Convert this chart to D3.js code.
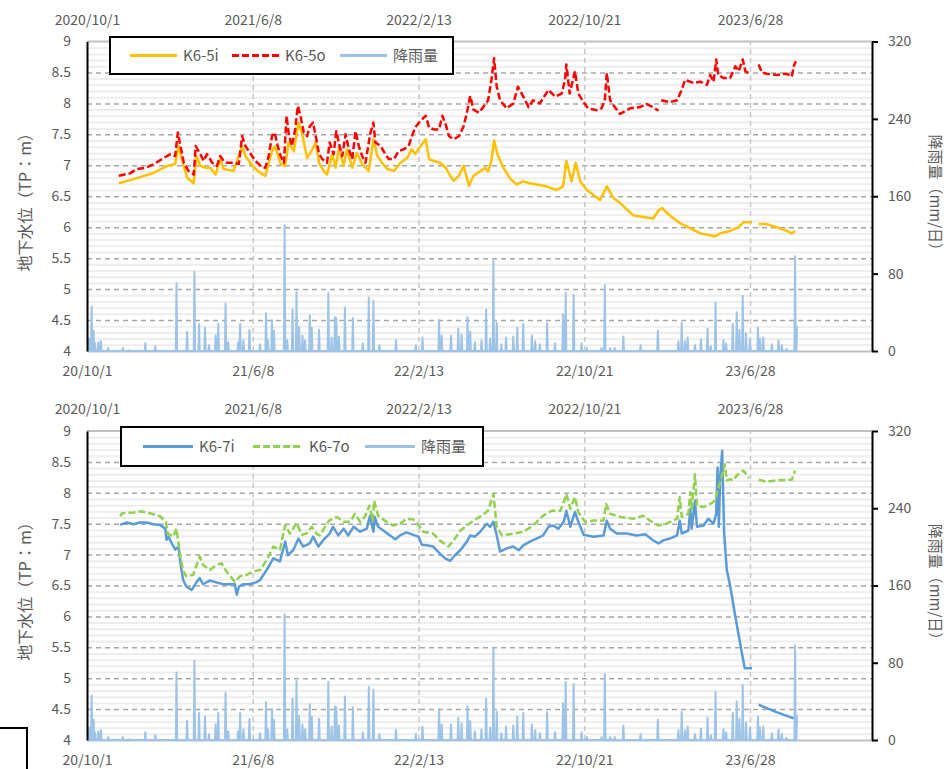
<!DOCTYPE html>
<html>
<head>
<meta charset="utf-8">
<script src="https://cdn.jsdelivr.net/npm/d3@7"></script>
<style>
  body { margin: 0; background: #fff; }
  svg text { font-family: "Noto Sans CJK JP", "Noto Sans", sans-serif; fill: #595959; }
</style>
</head>
<body>
<svg id="chart" width="947" height="769"></svg>
<script>
// days counted from 2020/10/1
var tickDates = ["2020/10/1", "2021/6/8", "2022/2/13", "2022/10/21", "2023/6/28"];
var topTickLabels = ["2020/10/1", "2021/6/8", "2022/2/13", "2022/10/21", "2023/6/28"];
var bottomTickLabels = ["20/10/1", "21/6/8", "22/2/13", "22/10/21", "23/6/28"];
var levelTicks = [4, 4.5, 5, 5.5, 6, 6.5, 7, 7.5, 8, 8.5, 9];
var rainTicks = [0, 80, 160, 240, 320];

var k65i = [[48,6.71],[65,6.76],[86,6.83],[101,6.88],[121,6.99],[133,7.02],[138,7.31],[143,7.10],[151,6.80],[161,6.71],
  [165,7.15],[171,6.99],[179,6.96],[186,6.96],[194,6.85],[201,7.10],[206,6.94],[221,6.91],[234,7.31],[239,7.15],
  [246,7.04],[257,6.91],[269,6.83],[279,7.23],[284,7.31],[292,7.02],[299,6.99],[304,7.37],[312,7.23],[319,7.69],
  [324,7.53],[332,7.12],[340,7.26],[345,7.37],[350,7.04],[357,6.91],[362,6.85],[370,7.18],[375,6.96],[380,7.28],
  [387,6.99],[392,7.26],[400,6.96],[407,7.20],[415,7.02],[425,6.91],[432,7.42],[438,7.15],[445,7.04],[453,6.94],
  [463,6.91],[473,7.04],[483,7.12],[490,7.26],[495,7.18],[503,7.31],[511,7.42],[516,7.10],[523,7.07],[533,7.04],
  [541,6.96],[548,6.83],[553,6.75],[561,6.83],[568,6.99],[576,6.67],[583,6.83],[594,6.91],[601,6.96],[605,6.90],
  [610,7.07],[614,7.40],[619,7.18],[628,6.96],[638,6.79],[648,6.69],[658,6.74],[668,6.71],[678,6.69],[693,6.66],
  [708,6.60],[718,6.66],[723,7.07],[731,6.74],[737,7.04],[744,6.74],[754,6.60],[764,6.52],[774,6.44],[784,6.66],
  [794,6.47],[804,6.39],[824,6.19],[854,6.14],[862,6.27],[867,6.31],[879,6.19],[895,6.06],[910,5.98],[925,5.90],
  [940,5.87],[947,5.85],[955,5.90],[970,5.94],[983,6.00],[990,6.08],[1003,6.08],[1008,null],[1013,6.05],[1025,6.05],
  [1040,6.00],[1055,5.94],[1063,5.90],[1068,5.94]];

var k65o = [[48,6.83],[65,6.87],[75,6.94],[88,6.96],[101,7.02],[116,7.12],[126,7.18],[133,7.15],[137,7.53],[141,7.31],
  [146,7.04],[153,6.91],[161,6.85],[164,7.31],[171,7.18],[176,7.07],[181,7.18],[189,7.04],[196,6.99],[201,7.15],
  [206,7.07],[211,7.04],[221,7.04],[229,7.02],[234,7.47],[239,7.31],[246,7.20],[254,7.07],[262,6.99],[269,6.96],
  [274,7.15],[279,7.47],[283,7.53],[287,7.34],[292,7.15],[297,7.04],[301,7.80],[304,7.53],[309,7.31],[314,7.58],
  [318,7.96],[322,7.80],[327,7.53],[332,7.47],[336,7.63],[341,7.69],[345,7.47],[350,7.18],[355,7.10],[362,7.04],
  [366,7.37],[372,7.18],[376,7.55],[381,7.31],[385,7.15],[390,7.50],[395,7.26],[400,7.10],[405,7.55],[410,7.31],
  [415,7.15],[420,7.04],[427,7.50],[432,7.69],[435,7.37],[443,7.31],[450,7.18],[455,7.10],[463,7.10],[470,7.23],
  [478,7.26],[485,7.31],[490,7.47],[495,7.61],[503,7.72],[511,7.80],[516,7.61],[523,7.58],[531,7.58],[536,7.80],
  [541,7.66],[546,7.47],[553,7.42],[561,7.47],[568,7.63],[573,7.85],[578,8.12],[583,7.90],[591,7.85],[599,7.96],
  [605,8.05],[610,8.38],[614,8.73],[618,8.27],[623,8.05],[633,7.92],[643,8.00],[650,8.27],[658,8.11],[666,7.94],
  [673,8.05],[683,8.00],[696,8.22],[706,8.11],[716,8.16],[721,8.38],[723,8.63],[728,8.16],[736,8.52],[741,8.16],
  [749,8.02],[756,7.92],[769,7.89],[776,7.92],[781,8.05],[784,8.49],[789,8.05],[796,7.94],[804,7.83],[819,7.92],
  [834,7.94],[844,7.99],[854,7.94],[862,7.88],[864,null],[866,8.05],[879,8.02],[890,8.05],[897,8.22],[902,8.38],
  [915,8.33],[925,8.35],[935,8.30],[940,8.46],[945,8.35],[949,8.71],[952,8.46],[960,8.41],[970,8.41],[978,8.60],
  [983,8.52],[989,8.71],[993,8.52],[1000,8.48],[1007,null],[1013,8.63],[1018,8.50],[1025,8.48],[1040,8.46],[1055,8.48],
  [1063,8.43],[1066,8.60],[1069,8.68]];

var k67i = [[50,7.48],[60,7.52],[70,7.49],[80,7.52],[90,7.52],[100,7.49],[110,7.48],[118,7.42],[120,7.24],[123,7.29],
  [128,7.18],[133,7.08],[138,7.13],[141,6.86],[145,6.59],[150,6.48],[158,6.43],[165,6.55],[170,6.62],[175,6.52],
  [185,6.58],[195,6.55],[205,6.52],[215,6.52],[223,6.52],[226,6.35],[229,6.48],[235,6.52],[245,6.52],[255,6.55],
  [261,6.59],[271,6.75],[281,6.94],[291,6.89],[299,7.21],[303,6.99],[311,7.07],[319,7.26],[326,7.13],[336,7.18],
  [341,7.29],[349,7.13],[356,7.23],[366,7.34],[371,7.45],[379,7.31],[387,7.42],[394,7.31],[402,7.45],[412,7.37],
  [422,7.42],[427,7.63],[432,7.37],[434,7.61],[439,7.45],[447,7.39],[457,7.31],[465,7.25],[472,7.31],[482,7.36],
  [492,7.32],[500,7.29],[505,7.16],[512,7.15],[522,7.13],[532,7.02],[540,6.94],[548,6.90],[555,6.99],[563,7.07],
  [573,7.21],[578,7.31],[585,7.29],[593,7.37],[603,7.50],[608,7.45],[613,7.53],[618,7.31],[623,7.05],[633,7.10],
  [643,7.13],[651,7.07],[658,7.15],[668,7.21],[678,7.26],[688,7.31],[696,7.45],[703,7.47],[711,7.42],[719,7.53],
  [723,7.71],[729,7.45],[736,7.69],[741,7.53],[749,7.32],[764,7.29],[779,7.31],[784,7.55],[789,7.42],[799,7.34],
  [814,7.34],[829,7.31],[842,7.33],[854,7.23],[862,7.18],[869,7.23],[879,7.26],[890,7.31],[894,7.55],[897,7.34],
  [907,7.39],[910,7.74],[912,7.42],[917,7.87],[920,7.45],[930,7.47],[937,7.58],[945,7.50],[949,7.66],[951,8.41],
  [953,7.45],[955,8.25],[958,8.68],[961,7.35],[965,6.75],[970,6.50],[977,6.05],[985,5.57],[992,5.16],[1003,5.16],
  [1008,null],[1013,4.57],[1040,4.45],[1066,4.35]];

var k67o = [[50,7.62],[53,7.67],[70,7.68],[80,7.70],[95,7.67],[110,7.62],[119,7.53],[122,7.34],[130,7.29],[135,7.42],
  [140,7.02],[145,6.73],[150,6.65],[160,6.67],[170,6.97],[175,6.83],[185,6.75],[195,6.83],[203,6.86],[210,6.73],
  [223,6.56],[231,6.65],[241,6.67],[251,6.73],[261,6.75],[271,6.91],[281,7.13],[291,7.08],[299,7.48],[306,7.34],
  [316,7.51],[324,7.32],[331,7.34],[339,7.45],[346,7.34],[351,7.31],[365,7.55],[377,7.61],[387,7.53],[397,7.53],
  [404,7.66],[412,7.53],[419,7.61],[426,7.79],[431,7.55],[433,7.87],[439,7.63],[449,7.55],[462,7.47],[472,7.50],
  [482,7.58],[492,7.57],[502,7.45],[507,7.37],[522,7.34],[532,7.23],[545,7.13],[553,7.23],[563,7.39],[573,7.47],
  [583,7.55],[595,7.63],[605,7.71],[613,7.98],[618,7.45],[626,7.31],[643,7.34],[658,7.37],[673,7.47],[688,7.63],
  [701,7.71],[714,7.71],[719,7.85],[723,7.98],[729,7.74],[736,7.93],[741,7.69],[751,7.53],[764,7.55],[779,7.55],
  [783,7.82],[789,7.66],[804,7.61],[824,7.58],[839,7.63],[849,7.55],[862,7.47],[874,7.50],[890,7.58],[894,7.93],
  [897,7.61],[907,7.66],[910,8.01],[912,7.74],[917,8.30],[920,7.79],[930,7.77],[940,7.82],[947,7.87],[951,8.03],
  [957,8.25],[962,8.46],[965,8.20],[970,8.22],[975,8.20],[980,8.28],[985,8.33],[990,8.36],[998,8.24],[1005,null],
  [1013,8.21],[1025,8.18],[1040,8.20],[1055,8.21],[1063,8.21],[1068,8.36]];

// daily rain (mm/day), days not listed had no rain
var rainEvents = [[3,13],[7,46],[10,21],[12,8],[17,9],[21,10],[32,3],[54,3],[64,1],[88,8],[103,5],[135,70],[151,20],
  [162,82],[169,28],[178,24],[184,6],[194,16],[198,28],[209,49],[213,9],[228,9],[231,28],[236,11],[245,22],[261,7],
  [270,39],[273,11],[279,32],[282,21],[298,130],[302,11],[310,43],[316,61],[320,25],[325,16],[329,11],[336,37],
  [339,24],[350,22],[364,60],[369,14],[374,35],[376,34],[380,15],[389,45],[401,34],[416,8],[425,55],[432,52],[441,6],
  [466,11],[496,6],[506,14],[531,32],[535,16],[549,16],[560,23],[565,17],[574,35],[578,20],[585,9],[595,11],[602,43],
  [608,13],[613,95],[618,29],[625,7],[632,14],[643,15],[649,24],[658,28],[671,16],[676,10],[683,7],[694,29],[706,8],
  [718,38],[722,60],[734,58],[746,8],[754,3],[776,3],[781,68],[789,3],[796,3],[809,15],[835,6],[861,21],[892,10],
  [897,29],[902,10],[906,14],[917,6],[926,12],[936,23],[941,5],[948,50],[960,11],[964,8],[974,28],[980,40],[984,22],
  [989,57],[994,18],[1000,12],[1012,24],[1015,13],[1020,14],[1033,7],[1043,11],[1048,6],[1055,2],[1068,98],[1071,26]];
var rainLastDay = 1071;

var START = new Date(2020, 9, 1);
var END = new Date(2023, 11, 29);
var parseDate = d3.timeParse("%Y/%m/%d");
function toDate(day) { return d3.timeDay.offset(START, day); }

var svg = d3.select("#chart");
var x = d3.scaleTime().domain([START, END]).range([87, 872]);

var rainMap = new Map(rainEvents);
var rainDaily = d3.range(0, rainLastDay + 1).map(function (d) { return [d, rainMap.get(d) || 0]; });

function drawChart(cfg) {
    var y = d3.scaleLinear().domain([4, 9]).range([cfg.bottom, cfg.top]);
    var yR = d3.scaleLinear().domain([0, 320]).range([cfg.bottom, cfg.top]);
    var g = svg.append("g");
    var w = 872 - 87;

    // minor grid
    var minor = y.ticks(50).filter(function (v) { return Math.abs(v * 2 - Math.round(v * 2)) > 0.01; });
    g.append("g").attr("transform", "translate(87,0)")
        .call(d3.axisLeft(y).tickValues(minor).tickSize(-w).tickFormat(""))
        .call(function (s) {
            s.select(".domain").remove();
            s.selectAll("line").attr("stroke", "#ededed").attr("stroke-width", 2);
        });
    // major grid
    g.append("g").attr("transform", "translate(87,0)")
        .call(d3.axisLeft(y).tickValues(levelTicks.slice(1, -1)).tickSize(-w).tickFormat(""))
        .call(function (s) {
            s.select(".domain").remove();
            s.selectAll("line").attr("stroke", "#a6a6a6").attr("stroke-width", 1.5).attr("stroke-dasharray", "5,4");
        });
    // vertical grid
    var tv = tickDates.map(parseDate);
    g.append("g").attr("transform", "translate(0," + cfg.bottom + ")")
        .call(d3.axisBottom(x).tickValues(tv.slice(1)).tickSize(-(cfg.bottom - cfg.top)).tickFormat(""))
        .call(function (s) {
            s.select(".domain").remove();
            s.selectAll("line").attr("stroke", "#c8c8c8").attr("stroke-width", 1.5).attr("stroke-dasharray", "5,4");
        });
    // top border
    g.append("line").attr("x1", 87).attr("x2", 872).attr("y1", cfg.top).attr("y2", cfg.top)
        .attr("stroke", "#bfbfbf").attr("stroke-width", 2);

    // date axes
    g.append("g").attr("transform", "translate(0," + cfg.top + ")")
        .call(d3.axisTop(x).tickValues(tv).tickSize(0).tickPadding(17)
            .tickFormat(function (d, i) { return topTickLabels[i]; }))
        .call(function (s) {
            s.select(".domain").remove();
            s.selectAll("text").style("font-size", "14px");
        });
    g.append("g").attr("transform", "translate(0," + cfg.bottom + ")")
        .call(d3.axisBottom(x).tickValues(tv).tickSize(0).tickPadding(15)
            .tickFormat(function (d, i) { return bottomTickLabels[i]; }))
        .call(function (s) {
            s.select(".domain").attr("stroke", "#bfbfbf").attr("stroke-width", 2);
            s.selectAll("text").style("font-size", "14px");
        });

    // rain
    var rainLine = d3.line()
        .x(function (d) { return x(toDate(d[0])); })
        .y(function (d) { return yR(d[1]); });
    g.append("path").datum(rainDaily).attr("d", rainLine)
        .attr("fill", "none").attr("stroke", "#9dc3e6").attr("stroke-width", 2).attr("stroke-linejoin", "round");

    // water levels
    var lvlLine = d3.line()
        .defined(function (d) { return d[1] != null; })
        .x(function (d) { return x(toDate(d[0])); })
        .y(function (d) { return y(d[1]); });
    cfg.series.forEach(function (s) {
        g.append("path").datum(s.data).attr("d", lvlLine)
            .attr("fill", "none").attr("stroke", s.color).attr("stroke-width", 2.5)
            .attr("stroke-linejoin", "round")
            .attr("stroke-dasharray", s.dash || null);
    });

    // left axis
    g.append("g").attr("transform", "translate(87,0)")
        .call(d3.axisLeft(y).tickValues(levelTicks).tickSize(0).tickPadding(16).tickFormat(d3.format("")))
        .call(function (s) {
            s.select(".domain").attr("stroke", "#000").attr("stroke-width", 2);
            s.selectAll("text").style("font-size", "14px");
        });
    // right axis
    g.append("g").attr("transform", "translate(872,0)")
        .call(d3.axisRight(yR).tickValues(rainTicks).tickSize(6).tickSizeOuter(0).tickPadding(10))
        .call(function (s) {
            s.select(".domain").attr("stroke", "#000").attr("stroke-width", 2);
            s.selectAll("line").attr("stroke", "#000").attr("stroke-width", 2);
            s.selectAll("text").style("font-size", "14px");
        });

    // axis titles
    var mid = (cfg.top + cfg.bottom) / 2;
    g.append("text").attr("transform", "translate(31," + (mid + 2) + ") rotate(-90)")
        .attr("text-anchor", "middle").style("font-size", "16px").text("地下水位（TP：m）");
    g.append("text").attr("transform", "translate(930," + mid + ") rotate(90)")
        .attr("text-anchor", "middle").style("font-size", "15px").text("降雨量（mm/日）");

    // legend
    var lg = g.append("g").attr("transform", "translate(" + cfg.legend.x + "," + cfg.legend.y + ")");
    lg.append("rect").attr("width", cfg.legend.w).attr("height", cfg.legend.h)
        .attr("fill", "#fff").attr("stroke", "#000").attr("stroke-width", 2);
    var items = cfg.series.concat([{ name: "降雨量", color: "#9dc3e6" }]);
    items.forEach(function (it, i) {
        var lx = cfg.legend.offsets[i], ly = cfg.legend.h / 2;
        lg.append("line").attr("x1", lx).attr("x2", lx + cfg.legend.len).attr("y1", ly).attr("y2", ly)
            .attr("stroke", it.color).attr("stroke-width", 3)
            .attr("stroke-dasharray", it.dash || null);
        lg.append("text").attr("x", lx + cfg.legend.len + 6).attr("y", ly).attr("dy", "0.35em")
            .style("font-size", "15px").text(it.name);
    });
}

drawChart({
    top: 41.5, bottom: 351,
    series: [
        { name: "K6-5i", color: "#ffc000", data: k65i },
        { name: "K6-5o", color: "#ff0000", data: k65o, dash: "7,3" }
    ],
    legend: { x: 110, y: 37, w: 343, h: 37, len: 47, offsets: [20, 122, 230] }
});
drawChart({
    top: 431, bottom: 740,
    series: [
        { name: "K6-7i", color: "#5b9bd5", data: k67i },
        { name: "K6-7o", color: "#92d050", data: k67o, dash: "7,3" }
    ],
    legend: { x: 121, y: 427, w: 362, h: 39, len: 50, offsets: [22, 132, 244] }
});

// box edge at lower left (next panel)
svg.append("rect").attr("x", -10).attr("y", 728).attr("width", 37).attr("height", 60)
    .attr("fill", "#fff").attr("stroke", "#000").attr("stroke-width", 2);
</script>
</body>
</html>
